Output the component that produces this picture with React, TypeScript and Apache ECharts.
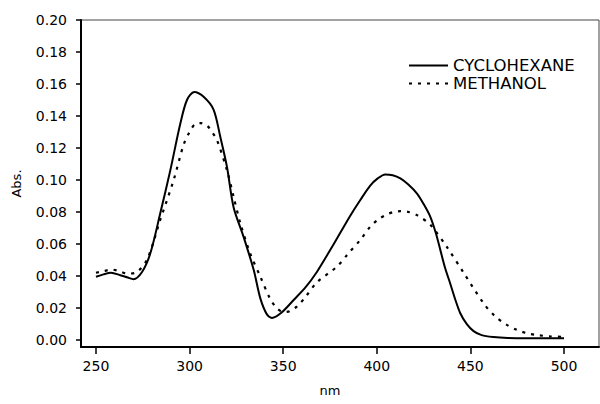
import React, { useEffect, useRef } from "react";
import * as echarts from "echarts";

const cycloX = [250, 254, 258, 263, 267, 270, 274.6, 279, 284.3, 289.7, 295, 298.6, 302.5, 307.5, 312.8, 316.4, 320, 323.5, 328.8, 334.2, 337.8, 341.3, 344, 349, 355.6, 362, 368, 374, 380.5, 386, 391.2, 396.5, 400.5, 404.5, 408.5, 412.6, 417, 421.5, 425, 428.6, 431.5, 434, 436.5, 439.3, 442, 444.6, 448, 451.7, 456, 462.4, 470, 480, 490, 500];
const cycloY = [0.0395, 0.041, 0.042, 0.0405, 0.039, 0.038, 0.0425, 0.054, 0.079, 0.106, 0.135, 0.150, 0.155, 0.152, 0.144, 0.127, 0.108, 0.083, 0.0646, 0.044, 0.026, 0.016, 0.0138, 0.017, 0.025, 0.033, 0.0425, 0.054, 0.067, 0.078, 0.0875, 0.0965, 0.101, 0.1035, 0.103, 0.101, 0.097, 0.0915, 0.085, 0.077, 0.067, 0.056, 0.045, 0.035, 0.025, 0.0167, 0.010, 0.0055, 0.003, 0.0018, 0.0012, 0.001, 0.001, 0.001];

const methX = [250, 254, 258.5, 262.5, 266.6, 271, 277.2, 284.3, 291.5, 296.8, 300, 303, 306, 309.3, 312, 314.6, 320, 323.5, 327.1, 332.4, 337.8, 342.9, 346.5, 350.2, 353.5, 357.4, 362, 368, 378.7, 384, 391.2, 396.5, 401, 405.4, 409, 412.6, 417, 421.5, 428.6, 437.5, 446.4, 457, 463, 469.5, 475, 480.2, 486, 492.7, 500];
const methY = [0.042, 0.043, 0.044, 0.043, 0.0415, 0.042, 0.050, 0.075, 0.100, 0.122, 0.130, 0.135, 0.1355, 0.134, 0.130, 0.125, 0.106, 0.0896, 0.073, 0.054, 0.0396, 0.026, 0.020, 0.0175, 0.018, 0.021, 0.027, 0.036, 0.0458, 0.053, 0.0625, 0.0708, 0.0755, 0.0785, 0.080, 0.0805, 0.080, 0.078, 0.072, 0.058, 0.042, 0.023, 0.015, 0.0094, 0.0062, 0.0042, 0.003, 0.0022, 0.002];

const xTicks = [250, 300, 350, 400, 450, 500];
const yTicks = [0, 0.02, 0.04, 0.06, 0.08, 0.1, 0.12, 0.14, 0.16, 0.18, 0.2];

const seriesNames = ["CYCLOHEXANE", "METHANOL"];

export default function App() {
  const ref = useRef<HTMLDivElement>(null);
  useEffect(() => {
    if (!ref.current) return;
    const chart = echarts.init(ref.current, null, { renderer: "svg" });
    const font = "DejaVu Sans, sans-serif";
    chart.setOption({
      animation: false,
      backgroundColor: "#fff",
      textStyle: { fontFamily: font },
      grid: {
        left: 81,
        top: 20,
        right: 1,
        bottom: 57,
        show: true,
        borderColor: "#444",
        borderWidth: 1,
      },
      legend: {
        orient: "vertical",
        left: 403,
        top: 52,
        itemWidth: 39,
        itemHeight: 12,
        itemGap: 1,
        itemStyle: { opacity: 0 },
        textStyle: { fontFamily: font, fontSize: 16.5, color: "#000" },
        data: seriesNames,
      },
      xAxis: {
        type: "value",
        min: 242,
        max: 518.7,
        name: "nm",
        nameLocation: "middle",
        nameGap: 37,
        nameTextStyle: { fontFamily: font, fontSize: 13, color: "#000", padding: [0, 20, 0, 0] },
        splitLine: { show: false },
        axisLine: { show: true, onZero: false, lineStyle: { color: "#000", width: 2 } },
        axisTick: { show: true, length: 7, customValues: xTicks, lineStyle: { color: "#000", width: 1.5 } },
        axisLabel: { customValues: xTicks, margin: 12, fontSize: 14, color: "#000", fontFamily: font },
      },
      yAxis: {
        type: "value",
        min: -0.0044,
        max: 0.2,
        name: "Abs.",
        nameLocation: "middle",
        nameGap: 58,
        nameTextStyle: { fontFamily: font, fontSize: 13, color: "#000" },
        splitLine: { show: false },
        axisLine: { show: true, onZero: false, lineStyle: { color: "#000", width: 2 } },
        axisTick: { show: true, length: 5, customValues: yTicks, lineStyle: { color: "#000", width: 1.5 } },
        axisLabel: {
          customValues: yTicks,
          margin: 14,
          fontSize: 14,
          color: "#000",
          fontFamily: font,
          formatter: (v: number) => v.toFixed(2),
        },
      },
      series: [
        {
          name: seriesNames[0],
          type: "line",
          smooth: 0.3,
          symbol: "none",
          lineStyle: { color: "#000", width: 2 },
          itemStyle: { color: "#000" },
          data: cycloX.map((x, i) => [x, cycloY[i]]),
        },
        {
          name: seriesNames[1],
          type: "line",
          smooth: 0.3,
          symbol: "none",
          lineStyle: { color: "#000", width: 2.2, type: [3, 6] },
          itemStyle: { color: "#000" },
          data: methX.map((x, i) => [x, methY[i]]),
        },
      ],
    });
    return () => chart.dispose();
  }, []);
  return <div ref={ref} style={{ width: 600, height: 404, position: "absolute", left: 0, top: 0 }} />;
}
